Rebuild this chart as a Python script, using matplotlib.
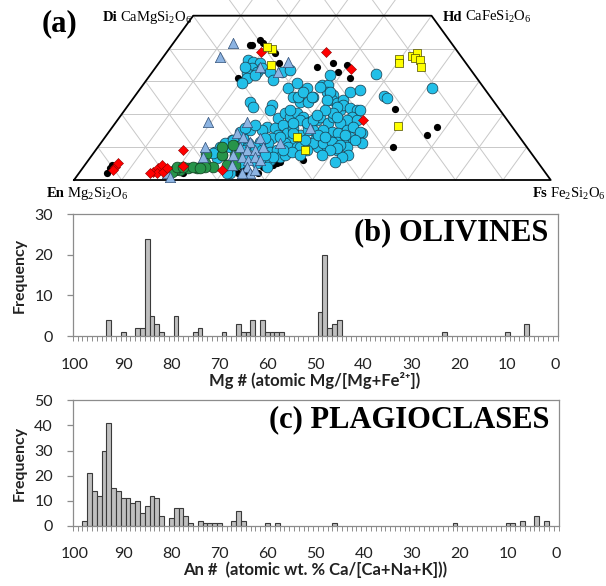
import numpy as np
import matplotlib
matplotlib.use("Agg")
import matplotlib.pyplot as plt

plt.rcParams['font.family'] = ['Lato', 'DejaVu Sans']
plt.rcParams['mathtext.fontset'] = 'custom'
plt.rcParams['mathtext.rm'] = 'Liberation Serif'

# --- (a) pyroxene quadrilateral, Wo and Fs in mol %
cyan_wo = [36.5, 35.9, 35.6, 34.1, 32.6, 32.9, 34.1, 32.9, 30.4, 31.0,
           29.5, 32.0, 34.4, 32.9, 33.5, 28.0, 29.5, 28.0, 25.3, 23.7,
           23.7, 25.3, 28.9, 28.9, 32.0, 26.8, 25.9, 24.3, 23.4, 24.3,
           26.8, 27.4, 32.3, 25.6, 25.0, 28.0, 23.7, 22.2, 22.8, 21.3,
           18.9, 20.4, 19.2, 20.4, 19.2, 17.3, 18.3, 16.1, 15.2, 15.8,
           16.7, 14.3, 15.8, 13.7, 12.2, 11.3, 13.7, 12.8, 11.3, 11.6,
           10.0, 11.3, 12.8, 11.3, 12.2, 10.0, 11.3, 10.0, 7.6, 8.5,
           6.7, 9.1, 7.0, 7.0, 9.1, 8.5, 9.1, 10.0, 10.0, 7.0,
           6.1, 5.2, 5.2, 4.6, 2.1, 17.6, 19.2, 17.3, 19.2, 21.3,
           22.8, 21.9, 21.3, 19.2, 18.3, 18.3, 17.3, 14.6, 14.3, 15.2,
           16.1, 14.3, 12.8, 13.1, 11.6, 11.6, 12.2, 12.2, 10.0, 10.0,
           9.1, 10.0, 7.6, 7.0, 5.5, 11.3, 15.2, 15.2, 15.2, 12.2,
           8.2, 3.7, 11.3, 9.1, 12.8, 13.1, 14.3, 10.0, 11.3, 9.1,
           7.0, 6.1, 4.0, 21.3, 18.3, 17.3, 17.3, 18.3, 25.3, 26.8,
           28.3, 26.8, 24.3, 22.2, 20.4, 21.3, 25.3, 21.3, 19.8, 19.2,
           14.6, 12.2, 11.3, 11.6, 10.7, 9.7, 12.2, 14.6, 2.1,
           7.6, 7.6, 8.5, 12.2, 13.7, 13.1, 13.7, 9.1, 7.6, 7.6,
           9.1, 15.2, 16.7, 15.8]
cyan_fs = [18.3, 19.6, 21.2, 20.3, 20.0, 22.0, 22.4, 24.7, 26.6, 20.8,
           20.5, 22.0, 18.7, 27.2, 28.6, 30.9, 32.1, 34.9, 33.3, 35.6,
           37.3, 37.5, 37.6, 38.9, 37.7, 39.7, 41.4, 42.0, 43.5, 44.3,
           44.5, 46.3, 47.3, 52.2, 53.2, 61.1, 25.1, 26.5, 30.1, 30.5,
           33.4, 34.1, 35.7, 36.6, 38.4, 40.3, 41.9, 32.5, 31.8, 34.3,
           35.5, 37.6, 38.0, 40.6, 39.6, 38.7, 35.9, 35.1, 35.1, 33.2,
           33.0, 30.9, 29.1, 28.6, 27.0, 27.7, 26.1, 25.6, 27.3, 25.4,
           26.7, 30.7, 32.8, 34.1, 34.9, 36.9, 38.1, 39.9, 41.8, 39.7,
           38.1, 35.8, 32.2, 30.0, 31.7, 40.7, 42.0, 44.7, 44.7, 45.2,
           45.0, 47.0, 48.8, 48.7, 48.2, 50.3, 47.2, 46.8, 48.3, 49.7,
           50.5, 53.3, 53.2, 51.4, 50.6, 49.4, 47.2, 45.5, 46.2, 48.1,
           50.7, 52.3, 53.7, 52.7, 52.0, 54.8, 42.5, 41.5, 44.6, 44.5,
           25.1, 30.4, 28.8, 31.3, 33.7, 36.7, 38.8, 42.4, 44.5, 44.3,
           38.3, 36.0, 38.5, 34.7, 38.3, 37.3, 40.3, 41.0, 34.4, 34.6,
           37.5, 40.3, 41.0, 44.1, 44.1, 49.4, 37.3, 42.1, 41.1, 45.6,
           52.7, 52.9, 46.6, 48.3, 50.5, 50.4, 27.3, 27.5, 31.1,
           36.3, 40.5, 41.5, 42.4, 44.4, 46.2, 50.0, 49.2, 48.2, 43.6,
           39.3, 29.3, 29.7, 28.0]

black_wo = [41.1, 42.6, 41.7, 41.1, 38.6, 35.6, 31.0, 34.4, 35.6, 35.0,
            32.9, 31.0, 21.6, 16.1, 13.7, 10.0, 15.8, 12.8, 6.1, 5.5,
            4.6, 4.0, 2.1, 3.7, 2.1, 4.6, 2.1, 2.4, 4.0, 2.1,
            7.6, 4.0, 5.2, 3.7]
black_fs = [16.8, 17.7, 18.8, 16.4, 22.9, 25.2, 18.9, 33.8, 36.5, 39.8,
            38.9, 42.4, 56.5, 68.1, 67.2, 61.9, 50.4, 34.7, 45.0, 40.5,
            39.5, 38.5, 37.6, 33.6, 33.4, 5.7, 5.9, 35.1, 21.7, 21.9,
            23.7, 37.7, 40.0, 5.8]

red_wo = [4.0, 5.2, 3.0, 2.4, 3.7, 4.6, 2.1, 2.4, 2.1, 3.7,
          9.1, 4.3, 3.0, 39.0, 39.0, 33.8, 18.3]
red_fs = [6.6, 6.6, 6.7, 15.4, 15.8, 16.2, 16.4, 17.5, 14.9, 17.7,
          18.4, 20.8, 29.6, 19.7, 33.4, 41.2, 51.5]

yellow_wo = [36.8, 35.6, 37.7, 38.6, 37.1, 36.5, 34.4, 16.4, 9.1, 13.1,
             39.9, 40.5, 35.0]
yellow_fs = [49.8, 50.4, 52.1, 52.7, 53.0, 54.4, 55.6, 59.8, 43.9, 40.3,
             21.6, 20.3, 23.8]

tri_wo = [41.7, 37.4, 35.9, 32.9, 34.4, 17.6, 17.6, 14.3, 13.1, 11.6,
          12.8, 11.3, 15.8, 10.0, 9.1, 9.1, 10.0, 7.6, 7.0, 6.1,
          7.0, 6.1, 4.0, 2.1, 2.1, 10.0, 7.0, 2.1, 0.9, 4.6, 3.0]
tri_fs = [12.5, 11.9, 26.9, 26.4, 21.8, 19.3, 27.5, 27.0, 28.9, 31.1,
          32.6, 37.5, 41.6, 29.8, 31.7, 33.4, 34.7, 29.6, 31.7, 33.4,
          34.5, 36.0, 34.3, 35.8, 34.1, 22.5, 23.6, 18.4, 19.6, 30.8, 36.5]

green_wo = [7.9, 5.2, 7.6, 10.3, 7.6, 4.6, 4.6, 4.0, 4.0, 3.7,
            3.7, 3.0, 3.0, 2.4, 4.0, 4.0, 4.0, 3.7, 10.0, 10.7]
green_fs = [23.7, 24.9, 27.3, 28.6, 30.0, 29.8, 31.5, 27.2, 25.5, 24.0,
            22.1, 20.7, 19.7, 19.4, 19.6, 20.9, 23.0, 24.6, 26.1, 28.1]

# --- (b) olivine Mg# histogram
ol_mg = [93, 90, 87, 86, 85, 84, 83, 82, 79, 75, 74, 69, 66, 65, 64, 63,
         61, 60, 59, 58, 57, 49, 48, 47, 46, 45, 23, 10, 6]
ol_n = [4, 1, 2, 2, 24, 5, 3, 1, 5, 1, 2, 1, 3, 1, 1, 4,
        4, 1, 1, 1, 1, 6, 20, 2, 3, 4, 1, 1, 3]

# --- (c) plagioclase An# histogram
pl_an = [98, 97, 96, 95, 94, 93, 92, 91, 90, 89, 88, 87, 86, 85, 84, 83,
         82, 80, 79, 78, 77, 76, 74, 73, 72, 71, 70, 67, 66, 65, 60, 58,
         46, 21, 10, 9, 7, 4, 2]
pl_n = [2, 21, 14, 12, 30, 41, 15, 14, 11, 11, 9, 10, 5, 8, 12, 11,
        4, 3, 7, 7, 4, 1, 2, 1, 1, 1, 1, 2, 6, 2, 1, 1,
        1, 1, 1, 1, 2, 4, 2]

fig = plt.figure(figsize=(6.06, 5.86), dpi=100)

# ================= (a) =================
ax = fig.add_axes([74 / 606, 1 - 180 / 586, 476.7 / 606, 164.3 / 586])
ax.set_xlim(0, 100)
ax.set_ylim(0, 50)
ax.axis('off')

gcol = '#c8c8c8'
top = 54.8
for v in range(10, 100, 10):
    w = np.array([0, min(top, 100 - v)])
    ax.plot(v + w / 2, w, color=gcol, lw=0.7, clip_on=False, zorder=1)
    ax.plot(100 - v - w / 2, w, color=gcol, lw=0.7, clip_on=False, zorder=1)
for w in range(10, 50, 10):
    ax.plot([w / 2, 100 - w / 2], [w, w], color=gcol, lw=0.7, zorder=1)
ax.plot([0, 25, 75, 100, 0], [0, 50, 50, 0, 0], color='black', lw=1.3,
        clip_on=False, zorder=2)


def proj(wo, fs):
    wo = np.asarray(wo)
    return np.asarray(fs) + wo / 2, wo


x, y = proj(black_wo, black_fs)
ax.scatter(x, y, s=27, c='black', lw=0, zorder=3, clip_on=False)
x, y = proj(cyan_wo, cyan_fs)
ax.scatter(x, y, s=60, c='#22bfe8', edgecolors='#1a3a4a', lw=0.5, zorder=4, clip_on=False)
x, y = proj(green_wo, green_fs)
ax.scatter(x, y, s=60, c='#27944a', edgecolors='#123d20', lw=0.5, zorder=5, clip_on=False)
x, y = proj(tri_wo, tri_fs)
ax.scatter(x, y, s=55, marker='^', c='#8db4e2', edgecolors='#2f4f77', lw=0.5, zorder=6, clip_on=False)
x, y = proj(red_wo, red_fs)
ax.scatter(x, y, s=26, marker='D', c='#ff0000', edgecolors='#8b0000', lw=0.4, zorder=7, clip_on=False)
x, y = proj(yellow_wo, yellow_fs)
ax.scatter(x, y, s=40, marker='s', c='#ffff00', edgecolors='#4a4a00', lw=0.5, zorder=8, clip_on=False)

serif = 'Liberation Serif'
lab = dict(fontsize=10.5, family=serif, va='baseline', clip_on=False)
t_di = ax.text(24.8, 48.5, 'CaMgSi$_2$O$_6$', ha='right', **lab)
t_hd = ax.text(77.4, 48.5, 'Hd', ha='left', fontweight='bold', **lab)
t_en = ax.text(-5.7, -5.2, 'En', ha='left', fontweight='bold', **lab)
t_fs = ax.text(96.3, -5.2, 'Fs', ha='left', fontweight='bold', **lab)

# end-member names next to their formulas
fig.canvas.draw()
r = fig.canvas.get_renderer()
W, H = fig.bbox.width, fig.bbox.height
yb_top = ax.transData.transform((0, 48.5))[1] / H
yb_bot = ax.transData.transform((0, -5.2))[1] / H
fig.text(t_di.get_window_extent(r).x0 / W - 0.004, yb_top, 'Di', ha='right', va='baseline',
         family=serif, fontsize=10.5, fontweight='bold')
for t, s, yb in [(t_hd, 'CaFeSi$_2$O$_6$', yb_top), (t_en, 'Mg$_2$Si$_2$O$_6$', yb_bot),
                 (t_fs, 'Fe$_2$Si$_2$O$_6$', yb_bot)]:
    fig.text(t.get_window_extent(r).x1 / W + 0.004, yb, s, ha='left', va='baseline',
             family=serif, fontsize=10.5)

fig.text(42 / 606, 1 - 31 / 586, '(a)', family=serif, fontsize=22,
         fontweight='bold', va='baseline')


# ================= histograms =================
def hist_panel(rect, cats, counts, ymax, title, xlabel):
    h = fig.add_axes(rect)
    h.bar(cats, counts, width=1, color='#bfbfbf', edgecolor='#3a3a3a', lw=0.8, zorder=2)
    h.set_xlim(100.5, -0.5)
    h.set_ylim(0, ymax)
    for s in h.spines.values():
        s.set_color('#8c8c8c')
        s.set_linewidth(0.9)
    h.set_xticks(np.arange(0, 101, 10))
    h.set_xticks(np.arange(-0.5, 101, 1), minor=True)
    h.tick_params(axis='x', which='major', length=0, pad=15.5, labelsize=11.5,
                  labelcolor='#222222')
    h.tick_params(axis='x', which='minor', length=3.6, color='#8c8c8c', width=0.7)
    h.set_yticks(np.arange(0, ymax + 1, 10))
    h.tick_params(axis='y', length=4.3, color='#8c8c8c', width=0.9, pad=10,
                  labelsize=11.5, labelcolor='#222222')
    h.set_ylabel('Frequency', fontsize=11.5, fontweight='bold', color='#222222')
    h.yaxis.set_label_coords(-0.095, 0.5)
    h.set_xlabel(xlabel, fontsize=12, fontweight='bold', color='#222222', labelpad=0.5)
    h.text(0.981, 0.785, title, transform=h.transAxes, ha='right', va='baseline',
           family=serif, fontsize=22, fontweight='bold')
    return h


hist_panel([72.7 / 606, 1 - 336 / 586, 484.8 / 606, 121.7 / 586], ol_mg, ol_n, 30,
           '(b) OLIVINES', 'Mg # (atomic Mg/[Mg+Fe²⁺])')
hist_panel([72.7 / 606, 1 - 525.7 / 586, 485.8 / 606, 125.3 / 586], pl_an, pl_n, 50,
           '(c) PLAGIOCLASES', 'An #  (atomic wt. % Ca/[Ca+Na+K]))')

fig.savefig('out.png', dpi=100)
